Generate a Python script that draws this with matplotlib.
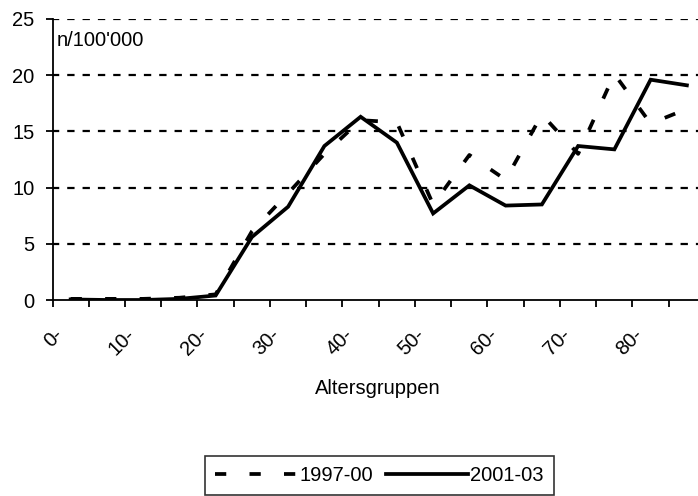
import matplotlib
matplotlib.use("Agg")
import matplotlib.pyplot as plt
import matplotlib.transforms as mtransforms
import numpy as np


AGE_GROUPS = ["0-", "5-", "10-", "15-", "20-", "25-", "30-", "35-", "40-",
              "45-", "50-", "55-", "60-", "65-", "70-", "75-", "80-", "85-"]
RATE_1997_00 = [0.1, 0.1, 0.1, 0.2, 0.5, 6.1, 9.5, 13.0, 16.0,
                15.8, 8.5, 12.9, 10.7, 16.5, 13.0, 20.1, 15.7, 17.0]
RATE_2001_03 = [0.05, 0.0, 0.0, 0.1, 0.4, 5.6, 8.3, 13.7, 16.3,
                14.0, 7.7, 10.2, 8.4, 8.5, 13.7, 13.4, 19.6, 19.1]
Y_TICKS = [0, 5, 10, 15, 20, 25]
SERIES_LABELS = ["1997-00", "2001-03"]
Y_UNIT = "n/100'000"
X_LABEL = "Altersgruppen"

W, H = 698, 496
FS = 14.5


def main():
    plt.rcParams["font.family"] = ["Liberation Sans", "DejaVu Sans"]
    plt.rcParams["font.size"] = FS

    fig = plt.figure(figsize=(W / 100, H / 100), dpi=100)
    # plot area runs past the right edge, like the cropped original
    ax = fig.add_axes([52.5 / W, (H - 300) / H, 652.5 / W, 281 / H])

    x = np.arange(len(AGE_GROUPS))
    ax.plot(x, RATE_1997_00, color="black", lw=2.7, ls=(0, (3.0, 6.2)),
            dash_capstyle="butt", label=SERIES_LABELS[0], zorder=3)
    ax.plot(x, RATE_2001_03, color="black", lw=2.7, solid_joinstyle="miter",
            label=SERIES_LABELS[1], zorder=4)

    ax.set_xlim(-0.5, len(AGE_GROUPS) - 0.5)
    ax.set_ylim(0, 25)

    # horizontal dashed grid
    for yv in Y_TICKS[1:]:
        ax.axhline(yv, color="black", lw=1.6, ls=(0.5, (3.3, 3.6)),
                   dash_capstyle="butt", zorder=1)

    for side in ("top", "right"):
        ax.spines[side].set_visible(False)
    for side in ("left", "bottom"):
        ax.spines[side].set_linewidth(1.3)

    ax.set_yticks(Y_TICKS)
    ax.tick_params(axis="y", direction="out", length=5, width=1.3, pad=8,
                   labelsize=FS)

    # tick marks between categories, labels on every other category
    ax.set_xticks(np.arange(len(AGE_GROUPS) + 1) - 0.5)
    ax.set_xticklabels([])
    ax.tick_params(axis="x", which="major", direction="out", length=5, width=1.3)
    ax.set_xticks(x[::2], minor=True)
    ax.set_xticklabels(AGE_GROUPS[::2], minor=True, rotation=45,
                       ha="right", va="center", rotation_mode="anchor")
    ax.tick_params(axis="x", which="minor", length=0, pad=23, labelsize=FS)
    offset = mtransforms.ScaledTranslation(-11 / 100, 0, fig.dpi_scale_trans)
    for lab in ax.get_xticklabels(minor=True):
        lab.set_transform(lab.get_transform() + offset)

    fig.text(57 / W, 1 - 40 / H, Y_UNIT, fontsize=FS, va="center", ha="left")
    fig.text(378 / W, 1 - 388 / H, X_LABEL, ha="center", va="center",
             fontsize=FS)

    leg = fig.legend(loc="center", bbox_to_anchor=(379.5 / W, 1 - 475.5 / H),
                     ncol=2, frameon=True, fancybox=False, fontsize=FS,
                     handlelength=4.1, handletextpad=0.1, columnspacing=0.6,
                     borderpad=0.5, borderaxespad=0)
    leg.get_frame().set_edgecolor("black")
    leg.get_frame().set_linewidth(1.2)

    fig.savefig("out.png", dpi=100)
    plt.close(fig)


if __name__ == "__main__":
    main()
